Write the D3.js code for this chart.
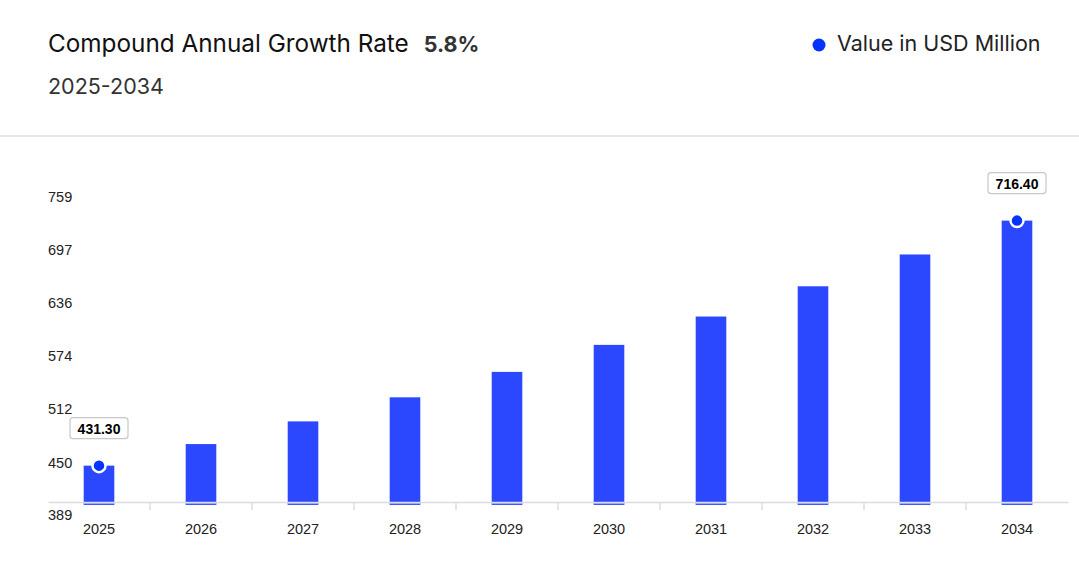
<!DOCTYPE html>
<html><head><meta charset="utf-8">
<script src="https://cdn.jsdelivr.net/npm/d3@7"></script>
<style>
body{margin:0;background:#fff;}
svg{display:block;}
</style></head>
<body>
<svg id="c" width="1079" height="571"></svg>
<script>
const years = ["2025","2026","2027","2028","2029","2030","2031","2032","2033","2034"];
const values = [431.3, 456.4, 482.8, 510.8, 540.4, 571.8, 604.8, 640.0, 677.0, 716.4];
const yTicks = [389, 450, 512, 574, 636, 697, 759];
const labelled = ["2025","2034"];
const titleText = "Compound Annual Growth Rate";
const cagrText = "5.8%";
const subtitleText = "2025-2034";
const legendText = "Value in USD Million";

const svg = d3.select("#c");
const W = 1079;
const barColor = "#2b48ff", dotColor = "#0633ff";

// header
const t = svg.append("text").attr("x",48).attr("y",52).attr("font-family","Inter").attr("font-size",24.3)
  .attr("fill","#111").text(titleText);
const tw = t.node().getComputedTextLength();
svg.append("text").attr("x",48+tw+15).attr("y",52).attr("font-family","Inter").attr("font-size",21.5)
  .attr("font-weight",700).attr("fill","#333").text(cagrText);
svg.append("text").attr("x",48).attr("y",94).attr("font-family","Inter").attr("font-size",21.5)
  .attr("fill","#333").text(subtitleText);
svg.append("circle").attr("cx",819).attr("cy",45).attr("r",6.5).attr("fill",dotColor);
svg.append("text").attr("x",837).attr("y",51).attr("font-family","Inter").attr("font-size",21.5)
  .attr("fill","#222").text(legendText);
svg.append("rect").attr("x",0).attr("y",135).attr("width",W).attr("height",2).attr("fill","#e8e8e8");

// scales
const x = d3.scaleBand().domain(years).range([48,1068]).paddingInner(0.7).paddingOuter(0.35);
const y = d3.scaleLinear().domain([389,759]).range([502,184]);

// y axis labels (no line)
const ya = svg.append("g").attr("transform","translate(48,0)")
  .call(d3.axisLeft(y).tickValues(yTicks).tickSize(0).tickFormat(d3.format("d")));
ya.select(".domain").remove();
ya.selectAll("text").attr("x",0).attr("dy","1.22em").attr("text-anchor","start")
  .attr("font-family","Arial, Liberation Sans").attr("font-size",14.5).attr("fill","#222");

// bars
svg.append("g").selectAll("rect").data(years).join("rect")
  .attr("x",d=>x(d)).attr("width",x.bandwidth())
  .attr("y",(d,i)=>y(values[i])).attr("height",(d,i)=>y(389)-y(values[i])+3)
  .attr("fill",barColor);
svg.append("g").selectAll("rect").data(years).join("rect")
  .attr("x",d=>x(d)).attr("width",x.bandwidth())
  .attr("y",y(389)+1).attr("height",1.2).attr("fill","#8a9cff");

// x axis
const band = d3.scaleBand().domain(years).range([48,1068]);
const xa = svg.append("g").attr("transform",`translate(0,${y(389)})`)
  .call(d3.axisBottom(band).tickSize(0).tickPadding(22));
xa.select(".domain").attr("stroke","#dcdcdc").attr("stroke-width",1.5);
xa.selectAll("text").attr("font-family","Arial, Liberation Sans").attr("font-size",14.5).attr("fill","#222");
xa.selectAll(".sep").data(years.slice(1)).join("line").attr("class","sep")
  .attr("x1",d=>band(d)).attr("x2",d=>band(d)).attr("y1",0).attr("y2",8)
  .attr("stroke","#dcdcdc").attr("stroke-width",1.5);

// dots + labels
const lab = svg.append("g").selectAll("g").data(labelled).join("g")
  .attr("transform",d=>`translate(${x(d)+x.bandwidth()/2},${y(values[years.indexOf(d)])})`);
lab.append("circle").attr("r",6.5).attr("fill",dotColor).attr("stroke","#fff").attr("stroke-width",2.5);
lab.append("rect").attr("x",-29).attr("y",-48).attr("width",58).attr("height",21).attr("rx",3)
  .attr("fill","#fff").attr("stroke","#c8c8c8").attr("stroke-width",1.2);
lab.append("text").attr("y",-32).attr("text-anchor","middle")
  .attr("font-family","Arial, Liberation Sans").attr("font-weight",700).attr("font-size",14)
  .attr("fill","#000").text(d=>values[years.indexOf(d)].toFixed(2));
</script>
</body></html>
